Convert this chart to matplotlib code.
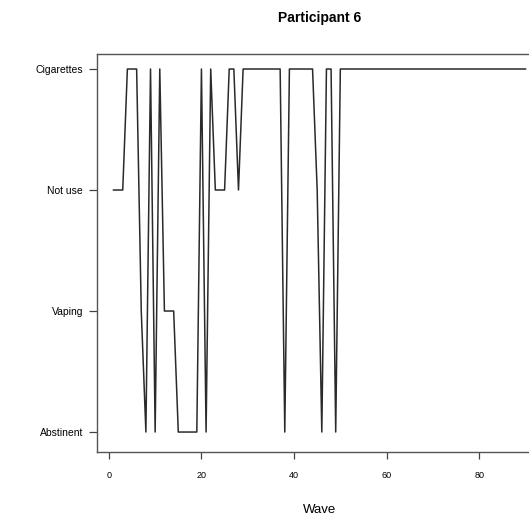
import matplotlib.pyplot as plt
import numpy as np

plt.rcParams['font.family'] = ['Liberation Sans', 'DejaVu Sans']

# states per wave: 1=Abstinent, 2=Vaping, 3=Not use, 4=Cigarettes
state_labels = ['Abstinent', 'Vaping', 'Not use', 'Cigarettes']
states = [3, 3, 3, 4, 4, 4, 2, 1, 4, 1,
          4, 2, 2, 2, 1, 1, 1, 1, 1, 4,
          1, 4, 3, 3, 3, 4, 4, 3, 4, 4,
          4, 4, 4, 4, 4, 4, 4, 1, 4, 4,
          4, 4, 4, 4, 3, 1, 4, 4, 1, 4] + [4] * 40
waves = np.arange(1, len(states) + 1)
xticks = [0, 20, 40, 60, 80]

fig = plt.figure(figsize=(5.29, 5.18), dpi=100)
ax = fig.add_axes([97 / 529, 66 / 518, 445 / 529, 398 / 518])
ax.plot(waves, states, color='#2a2a2a', linewidth=1.1)

n = len(states)
pad = 0.04 * (n - 1)
ax.set_xlim(1 - pad, n + pad)
ax.set_ylim(0.835, 4.124)
ax.set_xticks(xticks)
ax.set_yticks([1, 2, 3, 4])
ax.set_yticklabels(state_labels)
ax.tick_params(axis='y', labelsize=7.5, length=6, width=0.9, color='#444444', pad=4)
ax.tick_params(axis='x', labelsize=6.5, length=5, width=0.9, color='#444444', pad=9)
for s in ax.spines.values():
    s.set_color('#555555')
    s.set_linewidth(1.0)

ax.set_xlabel('Wave', fontsize=9.5, labelpad=17)
ax.set_title('Participant 6', fontsize=10, fontweight='bold', pad=23)

fig.savefig('out.png', dpi=100)
